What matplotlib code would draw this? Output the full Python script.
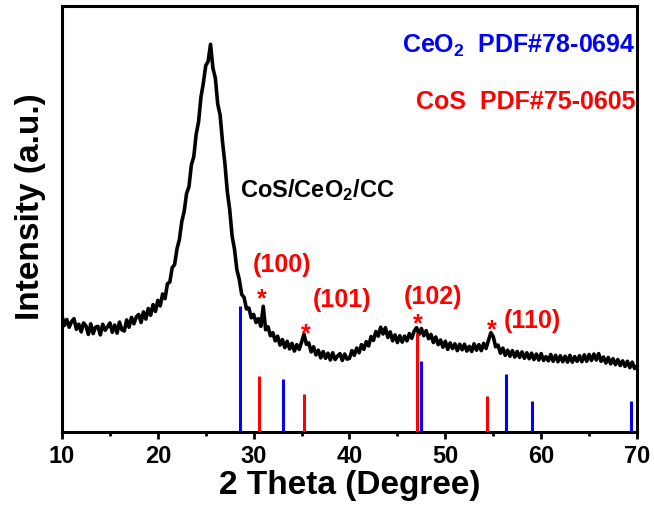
import numpy as np
import matplotlib
matplotlib.use("Agg")
import matplotlib.pyplot as plt

plt.rcParams['font.family'] = ['Liberation Sans', 'DejaVu Sans']
plt.rcParams['font.weight'] = 'bold'
plt.rcParams['mathtext.fontset'] = 'custom'
plt.rcParams['mathtext.rm'] = 'Liberation Sans:bold'
plt.rcParams['mathtext.bf'] = 'Liberation Sans:bold'
plt.rcParams['mathtext.it'] = 'Liberation Sans:bold'

# XRD scan of CoS/CeO2/CC, 2-theta from 10 deg in 0.25 deg steps (a.u.)
theta_start = 10.0
theta_step = 0.25
intensity = [
    27.3, 25.0, 26.4, 24.6,  25.9, 26.6, 24.1, 25.3,  23.5, 25.6, 24.9, 22.9,
    25.4, 23.1, 24.6, 24.8,  22.8, 25.3, 23.9, 24.7,  25.6, 23.4, 25.1, 23.2,
    25.8, 24.0, 23.7, 26.3,  24.6, 26.9, 25.4, 27.0,  27.6, 25.7, 28.2, 26.5,
    29.0, 27.4, 29.9, 28.3,  30.9, 29.6, 32.4, 31.3,  34.8, 35.2, 38.6, 39.3,
    43.0, 45.2, 49.4, 51.8,  56.0, 57.6, 62.7, 64.6,  69.9, 72.8, 78.6, 81.9,
    86.0, 87.0, 91.0, 85.4,  83.1, 77.0, 74.4, 68.1,  63.0, 56.4, 52.2, 46.0,
    42.9, 38.1, 35.8, 32.3,  31.6, 28.9, 29.1, 26.8,  27.6, 25.7, 26.6, 24.8,
    29.5, 24.0, 24.7, 22.6,  23.3, 21.4, 22.5, 20.4,  21.7, 19.8, 21.3, 19.5,
    20.8, 19.0, 20.5, 19.4,  21.1, 23.0, 20.6, 20.9,  18.8, 20.0, 18.1, 19.2,
    17.4, 18.9, 17.3, 18.5,  16.9, 18.6, 17.0, 17.8,  18.4, 16.8, 18.3, 17.1,
    17.3, 19.1, 18.0, 19.7,  18.6, 20.5, 19.4, 21.2,  20.2, 22.4, 21.5, 23.6,
    22.5, 24.6, 23.0, 24.5,  22.2, 23.5, 21.4, 22.8,  21.0, 22.6, 21.1, 22.5,
    21.4, 23.1, 22.0, 23.7,  24.5, 22.9, 24.3, 22.6,  23.8, 21.9, 22.9, 21.0,
    22.3, 20.5, 21.6, 19.9,  21.3, 19.4, 20.9, 19.6,  20.7, 19.1, 20.6, 19.3,
    20.6, 19.0, 20.1, 18.9,  20.7, 19.2, 20.5, 19.1,  20.8, 19.6, 21.5, 23.3,
    22.4, 20.0, 20.4, 18.5,  19.7, 18.0, 19.2, 17.8,  19.1, 17.6, 18.9, 17.5,
    18.8, 17.3, 18.6, 17.2,  18.5, 17.0, 18.3, 16.9,  18.4, 16.8, 17.7, 16.7,
    18.2, 16.6, 18.0, 16.5,  17.9, 16.5, 17.8, 16.4,  18.0, 16.4, 17.7, 16.6,
    17.9, 16.5, 18.1, 16.6,  18.2, 16.8, 18.3, 16.9,  18.4, 16.6, 17.6, 16.2,
    17.5, 16.0, 17.2, 15.8,  17.0, 15.6, 16.7, 15.4,  16.6, 15.1, 16.4, 14.9,
    15.5,
]
theta = theta_start + theta_step * np.arange(len(intensity))

# Standard reference patterns (stick positions and relative heights)
ceo2_pos = [28.55, 33.08, 47.48, 56.33, 59.09, 69.40]
ceo2_height = [29.6, 12.4, 16.7, 13.6, 7.3, 7.3]
cos_pos = [30.60, 35.30, 47.00, 54.40]
cos_height = [13.1, 8.9, 23.2, 8.5]

# Indexed CoS reflections: label positions and star (baseline) positions
hkl_labels = ['(100)', '(101)', '(102)', '(110)']
hkl_label_x = [32.96, 39.23, 48.73, 59.06]
hkl_label_y = [39.2, 31.0, 31.7, 26.1]
star_x = [30.88, 35.47, 47.16, 54.89]
star_y = [29.6, 21.4, 23.7, 22.3]

x_ticks = [10, 20, 30, 40, 50, 60, 70]

fig = plt.figure(figsize=(6.54, 5.08), dpi=100)
ax = fig.add_axes([0.0948, 0.1496, 0.8792, 0.8386])

ax.plot(theta, intensity, color='black', lw=2.6, zorder=2)
ax.vlines(ceo2_pos, 0, ceo2_height, color='#0000FF', lw=2.2, zorder=3)
ax.vlines(cos_pos, 0, cos_height, color='#FF0000', lw=2.2, zorder=3)

red = '#FF0000'
for lab, lx, ly in zip(hkl_labels, hkl_label_x, hkl_label_y):
    ax.text(lx, ly, lab, color=red, fontsize=18, fontweight='bold',
            ha='center', va='center')
for sx, sy in zip(star_x, star_y):
    ax.text(sx, sy, '*', color=red, fontsize=18, fontweight='bold',
            ha='center', va='baseline')

ax.text(0.997, 0.906, r'CeO$_{2}$  PDF#78-0694', transform=ax.transAxes,
        color='#0000FF', fontsize=18, fontweight='bold', ha='right', va='center')
ax.text(0.997, 0.775, 'CoS  PDF#75-0605', transform=ax.transAxes,
        color=red, fontsize=18, fontweight='bold', ha='right', va='center')
ax.text(0.309, 0.568, r'CoS/CeO$_{2}$/CC', transform=ax.transAxes,
        color='black', fontsize=17, fontweight='bold', ha='left', va='center')

ax.set_xlim(10, 70)
ax.set_ylim(0, 100)
ax.set_xticks(x_ticks)
ax.set_xticks(np.arange(15, 70, 10), minor=True)
ax.set_yticks([])
ax.tick_params(axis='x', which='major', direction='out', length=5, width=2,
               labelsize=17, pad=4, top=False)
ax.tick_params(axis='x', which='minor', direction='out', length=3, width=2,
               top=False)
for lbl in ax.get_xticklabels():
    lbl.set_fontweight('bold')
for sp in ax.spines.values():
    sp.set_linewidth(2.2)

ax.set_xlabel('2 Theta (Degree)', fontsize=24, fontweight='bold', labelpad=2)
fig.text(0.046, 0.593, 'Intensity (a.u.)', rotation=90, fontsize=24,
         fontweight='bold', ha='center', va='center')

fig.savefig('out.png', dpi=100)
